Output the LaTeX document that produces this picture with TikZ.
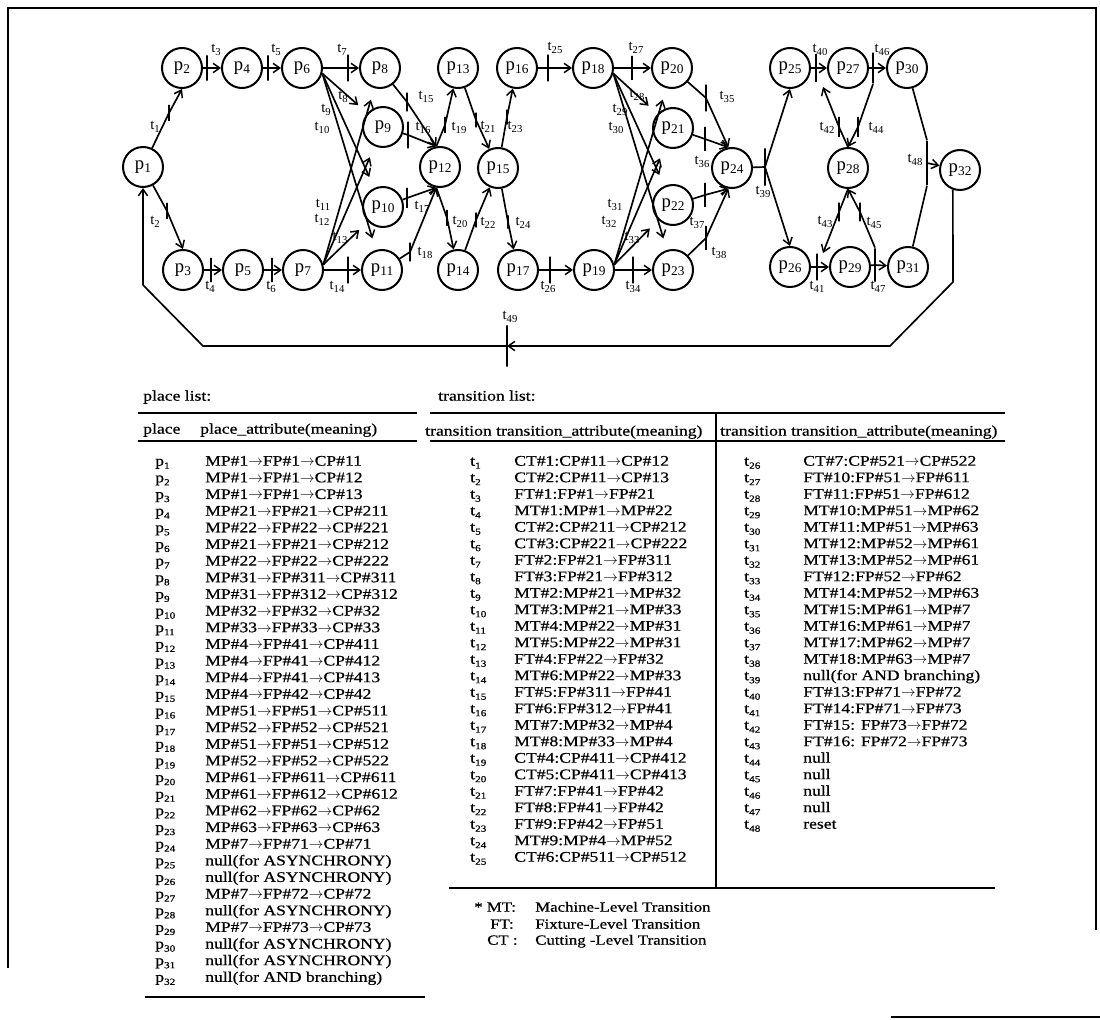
\documentclass[tikz,border=0pt]{standalone}
\usepackage{fontspec}
\usepackage{newunicodechar}
\setmainfont{Liberation Serif}
\newfontfamily\tabfont[FakeStretch=1.2,FakeBold=0.6]{Liberation Serif}
\usetikzlibrary{arrows.meta}
\newunicodechar{→}{\ensuremath{\rightarrow}}
\newcommand\plab[1]{p\kern0.2pt\raisebox{-0.4ex}{\fontsize{10}{10}\selectfont#1}}
\newcommand\tlab[1]{t\raisebox{-0.4ex}{\fontsize{8}{8}\selectfont#1}}
\newcommand\plist[1]{p\raisebox{-0.45ex}{\fontsize{7}{7}\selectfont#1}}
\newcommand\tlist[1]{t\raisebox{-0.45ex}{\fontsize{7}{7}\selectfont#1}}
\newcommand\prow[2]{\node[cell] (pn#1) at (155,{462+(#1-1)*16.65}) {\plist{#1}};
  \node[cell] (pa#1) at (205,{462+(#1-1)*16.65}) {#2};}
\newcommand\trowL[2]{\node[cell] (tn#1) at (470,{462+(#1-1)*16.5}) {\tlist{#1}};
  \node[cell] (ta#1) at (514,{462+(#1-1)*16.5}) {#2};}
\newcommand\trowR[2]{\node[cell] (tn#1) at (744,{462+(#1-26)*16.5}) {\tlist{#1}};
  \node[cell] (ta#1) at (803,{462+(#1-26)*16.5}) {#2};}
\tikzset{
  place/.style={circle,draw,line width=1.5pt,minimum size=30pt,inner sep=0pt,font=\fontsize{14}{14}\selectfont},
  tbar/.style={rectangle,draw,fill=black,line width=1.1pt,minimum width=0pt,inner sep=0pt,minimum height=#1},
  tbar/.default=18pt,
  tlbl/.style={inner sep=0pt,font=\fontsize{11}{11}\selectfont},
  arc/.style={line width=1.25pt},
  cell/.style={anchor=west,inner sep=0pt,text height=7.5pt,text depth=2pt,font=\tabfont\fontsize{11}{11}\selectfont},
  foot/.style={anchor=west,inner sep=0pt,text height=7.5pt,text depth=2pt,font=\tabfont\fontsize{10.5}{10.5}\selectfont},
  rulebig/.style={line width=1.6pt},
  rulesmall/.style={line width=1.2pt},
  frame/.style={line width=1.2pt},
  >={Straight Barb[length=5pt,width=7pt,line width=1.1pt]}
}
\begin{document}
\begin{tikzpicture}[x=0.75pt,y=-0.75pt]
\fill[white] (0,0) rectangle (1100,1020);
\useasboundingbox (0,0) rectangle (1100,1020);
% frame
\draw[frame] (8,968) -- (8,8) -- (1096,8) -- (1096,930);
\draw[frame] (891,1017) -- (1100,1017);
% places
\foreach \n/\x/\y in {1/143/167,2/182/68,3/183/270,4/242/68,5/243/270,6/302/68,7/303/270,
  8/380/68,9/383/127,10/383/207,11/382/270,12/440/167,13/458/68,14/458/270,15/498/168,
  16/517/68,17/518/270,18/593/68,19/594/270,20/672/68,21/673/128,22/673/205,23/673/270,
  24/732/168,25/790/68,26/790/267,27/848/68,28/848/168,29/850/267,30/907/68,31/908/267,32/960/170}
  {\node[place] (p\n) at (\x,\y) {\plab{\n}};}
% transition bars
\foreach \n/\x/\y/\h in {1/169/113/12pt,2/167/211/12pt,3/207/68/19pt,5/268/68/19pt,7/348/68/20pt,
  4/211/270/18pt,6/272/270/18pt,14/348/270/20pt,15/407/102/14pt,16/408/135/20pt,17/407/198/15pt,
  18/410/252/14pt,19/445/125/12pt,20/447/218/12pt,21/476/120/11pt,22/476/220/11pt,23/507/117/11pt,
  24/508/222/10pt,25/548/68/20pt,26/550/270/20pt,27/632/68/18pt,34/633/270/20pt,35/706/98/20pt,
  36/705/139/18pt,37/705/195/18pt,38/706/238/18pt,39/765/167/28pt,40/816/68/21pt,46/873/68/23pt,
  41/817/267/20pt,47/875/265/25pt,42/839/127/15pt,44/858/127/15pt,43/839/212/14pt,45/860/212/14pt,
  48/927/163/33pt,49/507/346/31pt}
  {\node[tbar=\h] (t\n) at (\x,\y) {};}
% transition labels
\foreach \n/\x/\y in {1/155/127,2/155/222,3/216/50,5/276/50,7/342/50,4/210/287,6/271/287,14/337/287,
  8/343/97,9/326/110,10/322/128,11/323/205,12/322/220,13/340/238,15/426/97,16/423/128,17/422/207,
  18/425/253,19/459/128,20/460/222,21/488/127,22/488/223,23/515/127,24/523/223,25/555/48,26/548/287,
  27/636/48,28/637/95,29/620/110,30/616/128,31/615/205,32/609/222,33/632/238,34/633/287,35/727/97,
  36/702/162,37/697/223,38/719/253,39/763/192,40/820/50,46/882/50,41/817/287,47/878/287,42/827/128,
  44/876/128,43/825/222,45/874/223,48/915/160,49/510/317}
  {\node[tlbl] (lt\n) at (\x,\y) {\tlab{\n}};}
% arcs block 1
\draw[arc,->] (p1) -- (t1.center) -- (p2.south);
\draw[arc,->] (p1) -- (t2.center) -- (p3.north);
\draw[arc,->] (p2) -- (t3.center) -- (p4);
\draw[arc,->] (p4) -- (t5.center) -- (p6);
\draw[arc,->] (p6) -- (t7.center) -- (p8);
\draw[arc,->] (p3) -- (t4.center) -- (p5);
\draw[arc,->] (p5) -- (t6.center) -- (p7);
\draw[arc,->] (p7) -- (t14.center) -- (p11);
\draw[arc,->,shorten >=9pt] (p6.-15) -- (p9);
\draw[arc,->,shorten >=9pt] (p6.-15) -- (p10);
\draw[arc,->,shorten >=9pt] (p6.-15) -- (p11);
\draw[arc,->,shorten >=9pt] (p7.15) -- (p8);
\draw[arc,->,shorten >=9pt] (p7.15) -- (p9);
\draw[arc,->,shorten >=9pt] (p7.15) -- (p10);
% block 2
\draw[arc,->] (p8) -- (t15.center) -- (p12.100);
\draw[arc,->] (p9) -- (t16.center) -- (p12.100);
\draw[arc,->] (p10) -- (t17.center) -- (p12.-100);
\draw[arc,->] (p11) -- (t18.center) -- (p12.-100);
\draw[arc,->] (p12.100) -- (t19.center) -- (p13);
\draw[arc,->] (p12.-100) -- (t20.center) -- (p14);
\draw[arc,->] (p13) -- (t21.center) -- (p15);
\draw[arc,->] (p14) -- (t22.center) -- (p15);
\draw[arc,->] (p15) -- (t23.center) -- (p16);
\draw[arc,->] (p15) -- (t24.center) -- (p17);
\draw[arc,->] (p16) -- (t25.center) -- (p18);
\draw[arc,->] (p17) -- (t26.center) -- (p19);
% block 3
\draw[arc,->] (p18) -- (t27.center) -- (p20);
\draw[arc,->] (p19) -- (t34.center) -- (p23);
\draw[arc,->,shorten >=9pt] (p18.-15) -- (p21);
\draw[arc,->,shorten >=9pt] (p18.-15) -- (p22);
\draw[arc,->,shorten >=9pt] (p18.-15) -- (p23);
\draw[arc,->,shorten >=9pt] (p19.15) -- (p20);
\draw[arc,->,shorten >=9pt] (p19.15) -- (p21);
\draw[arc,->,shorten >=9pt] (p19.15) -- (p22);
\draw[arc,->] (p20) -- (t35.center) -- (p24.100);
\draw[arc,->] (p21) -- (t36.center) -- (p24.100);
\draw[arc,->] (p22) -- (t37.center) -- (p24.-100);
\draw[arc,->] (p23) -- (t38.center) -- (p24.-100);
% block 4
\draw[arc] (p24) -- (t39.center);
\draw[arc,->] (t39.center) -- (p25.south);
\draw[arc,->] (t39.center) -- (p26.north);
\draw[arc,->] (p25) -- (t40.center) -- (p27);
\draw[arc,->] (p27) -- (t46.center) -- (p30);
\draw[arc,->] (p26) -- (t41.center) -- (p29);
\draw[arc,->] (p29) -- (t47.center) -- (p31);
\coordinate (c42) at (823,87);
\coordinate (c43) at (823,253);
\draw[arc,->] (p28.north) -- (t42.center) -- (c42);
\draw[arc,->] (t46.south) -- (t44.center) -- (p28.north);
\draw[arc,->] (p28.south) -- (t43.center) -- (c43);
\draw[arc,->] (t47.north) -- (t45.center) -- (p28.south);
\draw[arc] (p30) -- (t48.north);
\draw[arc] (p31) -- (t48.south);
\draw[arc,->] (t48.center) -- (p32);
% reset loop
\coordinate (c1) at (953,282);
\coordinate (c2) at (890,346);
\coordinate (c3) at (203,346);
\coordinate (c4) at (143,285);
\draw[arc,->] (p32.-110) -- (c1) -- (c2) -- (t49.center);
\draw[arc,->] (t49.center) -- (c3) -- (c4) -- (p1.south);
% tables
\node[cell] (plt) at (143,397) {place list:};
\node[cell] (tlt) at (438,397) {transition list:};
\draw[rulebig] (138,413) -- (417,413);
\draw[rulesmall] (138,441) -- (417,441);
\draw[rulebig] (145,997) -- (425,997);
\node[cell] (ph1) at (143,430) {place};
\node[cell] (ph2) at (200,430) {place\_attribute(meaning)};
\draw[rulebig] (430,413) -- (1005,413);
\draw[rulesmall] (430,441) -- (1005,441);
\draw[rulesmall] (449,888) -- (995,888);
\draw[rulesmall] (716,413) -- (716,888);
\node[cell] (th1) at (425,432) {transition transition\_attribute(meaning)};
\node[cell] (th2) at (720,432) {transition transition\_attribute(meaning)};
\prow{1}{MP\#1→FP\#1→CP\#11}
\prow{2}{MP\#1→FP\#1→CP\#12}
\prow{3}{MP\#1→FP\#1→CP\#13}
\prow{4}{MP\#21→FP\#21→CP\#211}
\prow{5}{MP\#22→FP\#22→CP\#221}
\prow{6}{MP\#21→FP\#21→CP\#212}
\prow{7}{MP\#22→FP\#22→CP\#222}
\prow{8}{MP\#31→FP\#311→CP\#311}
\prow{9}{MP\#31→FP\#312→CP\#312}
\prow{10}{MP\#32→FP\#32→CP\#32}
\prow{11}{MP\#33→FP\#33→CP\#33}
\prow{12}{MP\#4→FP\#41→CP\#411}
\prow{13}{MP\#4→FP\#41→CP\#412}
\prow{14}{MP\#4→FP\#41→CP\#413}
\prow{15}{MP\#4→FP\#42→CP\#42}
\prow{16}{MP\#51→FP\#51→CP\#511}
\prow{17}{MP\#52→FP\#52→CP\#521}
\prow{18}{MP\#51→FP\#51→CP\#512}
\prow{19}{MP\#52→FP\#52→CP\#522}
\prow{20}{MP\#61→FP\#611→CP\#611}
\prow{21}{MP\#61→FP\#612→CP\#612}
\prow{22}{MP\#62→FP\#62→CP\#62}
\prow{23}{MP\#63→FP\#63→CP\#63}
\prow{24}{MP\#7→FP\#71→CP\#71}
\prow{25}{null(for ASYNCHRONY)}
\prow{26}{null(for ASYNCHRONY)}
\prow{27}{MP\#7→FP\#72→CP\#72}
\prow{28}{null(for ASYNCHRONY)}
\prow{29}{MP\#7→FP\#73→CP\#73}
\prow{30}{null(for ASYNCHRONY)}
\prow{31}{null(for ASYNCHRONY)}
\prow{32}{null(for AND branching)}
\trowL{1}{CT\#1:CP\#11→CP\#12}
\trowL{2}{CT\#2:CP\#11→CP\#13}
\trowL{3}{FT\#1:FP\#1→FP\#21}
\trowL{4}{MT\#1:MP\#1→MP\#22}
\trowL{5}{CT\#2:CP\#211→CP\#212}
\trowL{6}{CT\#3:CP\#221→CP\#222}
\trowL{7}{FT\#2:FP\#21→FP\#311}
\trowL{8}{FT\#3:FP\#21→FP\#312}
\trowL{9}{MT\#2:MP\#21→MP\#32}
\trowL{10}{MT\#3:MP\#21→MP\#33}
\trowL{11}{MT\#4:MP\#22→MP\#31}
\trowL{12}{MT\#5:MP\#22→MP\#31}
\trowL{13}{FT\#4:FP\#22→FP\#32}
\trowL{14}{MT\#6:MP\#22→MP\#33}
\trowL{15}{FT\#5:FP\#311→FP\#41}
\trowL{16}{FT\#6:FP\#312→FP\#41}
\trowL{17}{MT\#7:MP\#32→MP\#4}
\trowL{18}{MT\#8:MP\#33→MP\#4}
\trowL{19}{CT\#4:CP\#411→CP\#412}
\trowL{20}{CT\#5:CP\#411→CP\#413}
\trowL{21}{FT\#7:FP\#41→FP\#42}
\trowL{22}{FT\#8:FP\#41→FP\#42}
\trowL{23}{FT\#9:FP\#42→FP\#51}
\trowL{24}{MT\#9:MP\#4→MP\#52}
\trowL{25}{CT\#6:CP\#511→CP\#512}
\trowR{26}{CT\#7:CP\#521→CP\#522}
\trowR{27}{FT\#10:FP\#51→FP\#611}
\trowR{28}{FT\#11:FP\#51→FP\#612}
\trowR{29}{MT\#10:MP\#51→MP\#62}
\trowR{30}{MT\#11:MP\#51→MP\#63}
\trowR{31}{MT\#12:MP\#52→MP\#61}
\trowR{32}{MT\#13:MP\#52→MP\#61}
\trowR{33}{FT\#12:FP\#52→FP\#62}
\trowR{34}{MT\#14:MP\#52→MP\#63}
\trowR{35}{MT\#15:MP\#61→MP\#7}
\trowR{36}{MT\#16:MP\#61→MP\#7}
\trowR{37}{MT\#17:MP\#62→MP\#7}
\trowR{38}{MT\#18:MP\#63→MP\#7}
\trowR{39}{null(for AND branching)}
\trowR{40}{FT\#13:FP\#71→FP\#72}
\trowR{41}{FT\#14:FP\#71→FP\#73}
\trowR{42}{FT\#15: FP\#73→FP\#72}
\trowR{43}{FT\#16: FP\#72→FP\#73}
\trowR{44}{null}
\trowR{45}{null}
\trowR{46}{null}
\trowR{47}{null}
\trowR{48}{reset}
% footnote
\node[foot] (f1a) at (474,908) {* MT:};
\node[foot] (f1b) at (535,908) {Machine-Level Transition};
\node[foot] (f2a) at (490,925) {FT:};
\node[foot] (f2b) at (535,925) {Fixture-Level Transition};
\node[foot] (f3a) at (487,941) {CT :};
\node[foot] (f3b) at (535,941) {Cutting -Level Transition};
\end{tikzpicture}
\end{document}
